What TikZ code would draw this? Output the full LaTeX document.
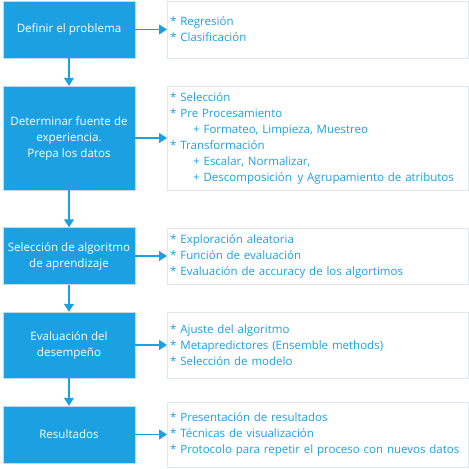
\documentclass[tikz,border=0pt]{standalone}
\usepackage{fontspec}
\setmainfont{Open Sans}
\usetikzlibrary{arrows.meta, positioning}
\definecolor{metro}{HTML}{1BA1E2}
\definecolor{stageedge}{HTML}{C6D7E5}
\definecolor{listedge}{HTML}{DEE8F2}
\newcommand{\sub}{\hspace*{23pt}}

\begin{document}
\begin{tikzpicture}[x=1pt, y=1pt,
  stage/.style={draw=stageedge, fill=metro, text=white, minimum width=132pt, align=center,
    inner sep=0pt, font=\fontsize{11.6}{16}\selectfont},
  items/.style={draw=listedge, fill=white, text=metro, anchor=west, text width=295pt,
    inner xsep=3pt, inner ysep=0pt, align=left, font=\fontsize{11.5}{16}\selectfont},
  link/.style={draw=metro, line width=1.2pt, -{Triangle[length=8pt,width=10pt]}}]
  \useasboundingbox (0,0) rectangle (469,-469);

  % etapas
  \node[stage, minimum height=57pt] (definir) at (69,-29.5) {Definir el problema};
  \node[stage, minimum height=104pt] (fuente) at (69,-138) {Determinar fuente de\\experiencia.\\Prepa los datos};
  \node[stage, minimum height=57pt] (algoritmo) at (69,-256) {Selección de algoritmo\\de aprendizaje};
  \node[stage, minimum height=66pt] (desempeno) at (69,-345) {Evaluación del\\desempeño};
  \node[stage, minimum height=57pt] (resultados) at (69,-434.5) {Resultados};

  % detalle de cada etapa
  \node[items, minimum height=57pt] (tipos) at (167,-29.5) {{*} Regresión\\{*} Clasificación};
  \node[items, minimum height=104pt] (datos) at (167,-138) {{*} Selección\\{*} Pre Procesamiento\\
    \sub+ Formateo, Limpieza, Muestreo\\{*} Transformación\\\sub+ Escalar, Normalizar,\\
    \sub+ Descomposición\ \,y Agrupamiento de atributos};
  \node[items, minimum height=56pt] (busqueda) at (167,-256) {{*} Exploración aleatoria\\
    {*} Función de evaluación\\{*} Evaluación de accuracy de los algortimos};
  \node[items, minimum height=66pt] (ajuste) at (167,-345) {{*} Ajuste del algoritmo\\
    {*} Metapredictores (Ensemble methods)\\{*} Selección de modelo};
  \node[items, minimum height=65pt] (entrega) at (167,-434.5) {{*} Presentación de resultados\\
    {*} Técnicas de visualización\\{*} Protocolo para repetir el proceso con nuevos datos};

  \draw[link] (definir) -- (fuente);
  \draw[link] (fuente) -- (algoritmo);
  \draw[link] (algoritmo) -- (desempeno);
  \draw[link] (desempeno) -- (resultados);

  \draw[link] (definir) -- (tipos);
  \draw[link] (fuente) -- (datos);
  \draw[link] (algoritmo) -- (busqueda);
  \draw[link] (desempeno) -- (ajuste);
  \draw[link] (resultados) -- (entrega);
\end{tikzpicture}
\end{document}
